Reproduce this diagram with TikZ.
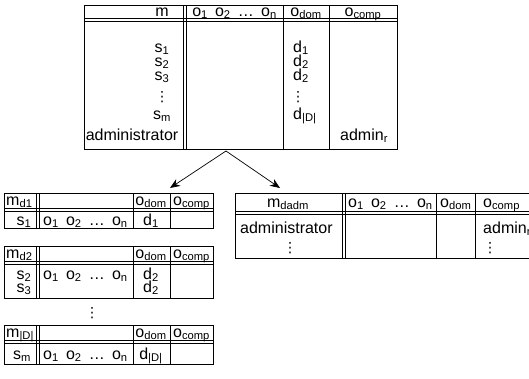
\documentclass[tikz,border=0pt]{standalone}
\usepackage{fontspec}
\setmainfont{Liberation Sans}
\newfontfamily\symfont{DejaVu Sans}
\usetikzlibrary{arrows.meta}
\newcommand{\olist}{o\textsubscript{1}\hspace{0.45em}o\textsubscript{2}\hspace{0.45em}…\hspace{0.45em}o\textsubscript{n}}
\newcommand{\odom}{o\textsubscript{dom}}
\newcommand{\ocomp}{o\textsubscript{comp}}
\newcommand{\vd}{{\symfont\fontsize{14}{14}\selectfont ⋮}}
\begin{document}
\begin{tikzpicture}[x=1pt,y=-1pt,
  every node/.style={inner sep=0pt, font=\fontsize{16}{16}\selectfont},
  tline/.style={line width=0.8pt},
  lbl/.style={anchor=base},
  lblw/.style={anchor=base west},
  dts/.style={anchor=base},
  arr/.style={-{Stealth[length=10pt,width=8pt]}, line width=0.7pt}]
\useasboundingbox (0,0) rectangle (529,378);
\clip (0,0) rectangle (529,378);

% ---------- top table ----------
\draw[tline] (84,5) rectangle (397,149);
\draw[tline] (84,18) -- (397,18);
\draw[tline] (84,21) -- (397,21);
\draw[tline] (183,5) -- (183,149);
\draw[tline] (186,5) -- (186,149);
\draw[tline] (283,5) -- (283,149);
\draw[tline] (329,5) -- (329,149);
\node[lbl] (tm) at (162,16) {m};
\node[lbl] (to) at (234.5,16) {\olist};
\node[lbl] (td) at (306,16) {\odom};
\node[lbl] (tc) at (363,16) {\ocomp};
\node[lbl] (ts1) at (162,52) {s\textsubscript{1}};
\node[lbl] (ts2) at (162,66) {s\textsubscript{2}};
\node[lbl] (ts3) at (162,80) {s\textsubscript{3}};
\node[dts] (tsd) at (162,101) {\vd};
\node[lbl] (tsm) at (162,119) {s\textsubscript{m}};
\node[lbl] (tadm) at (132,140) {administrator};
\node[lblw] (td1) at (293,52) {d\textsubscript{1}};
\node[lblw] (td2) at (293,66) {d\textsubscript{2}};
\node[lblw] (td3) at (293,80) {d\textsubscript{2}};
\node[dts] (tdd) at (298,101) {\vd};
\node[lblw] (tdD) at (293,119) {d\textsubscript{|D|}};
\node[lblw] (tadr) at (340,140) {admin\textsubscript{r}};

% ---------- arrows ----------
\coordinate (apex) at (226,151);
\coordinate (tipl) at (170,188);
\coordinate (tipr) at (280,188);
\draw[arr] (apex) -- (tipl);
\draw[arr] (apex) -- (tipr);

% ---------- table m_d1 ----------
\draw[tline] (4,193) rectangle (213,228);
\draw[tline] (4,208) -- (213,208);
\draw[tline] (4,211) -- (213,211);
\foreach \x in {36,39,133,170} \draw[tline] (\x,193) -- (\x,228);
\node[lblw] (am) at (6,205) {m\textsubscript{d1}};
\node[lbl] (ad) at (151,205) {\odom};
\node[lbl] (ac) at (191.5,205) {\ocomp};
\node[lbl] (as) at (24,225) {s\textsubscript{1}};
\node[lblw] (ao) at (43,225) {\olist};
\node[lbl] (ad1) at (151,225) {d\textsubscript{1}};

% ---------- table m_d2 ----------
\draw[tline] (4,246) rectangle (213,298);
\draw[tline] (4,261) -- (213,261);
\draw[tline] (4,264) -- (213,264);
\foreach \x in {36,39,133,170} \draw[tline] (\x,246) -- (\x,298);
\node[lblw] (bm) at (6,258) {m\textsubscript{d2}};
\node[lbl] (bd) at (151,258) {\odom};
\node[lbl] (bc) at (191.5,258) {\ocomp};
\node[lbl] (bs2) at (24,279) {s\textsubscript{2}};
\node[lbl] (bs3) at (24,292) {s\textsubscript{3}};
\node[lblw] (bo) at (43,279) {\olist};
\node[lbl] (bd2) at (151,279) {d\textsubscript{2}};
\node[lbl] (bd3) at (151,292) {d\textsubscript{2}};

\node[dts] (mid) at (92,317) {\vd};

% ---------- table m_|D| ----------
\draw[tline] (4,325) rectangle (213,364);
\draw[tline] (4,340) -- (213,340);
\draw[tline] (4,343) -- (213,343);
\foreach \x in {36,39,133,170} \draw[tline] (\x,325) -- (\x,364);
\node[lblw] (cm) at (6,337) {m\textsubscript{|D|}};
\node[lbl] (cd) at (151,337) {\odom};
\node[lbl] (cc) at (191.5,337) {\ocomp};
\node[lbl] (cs) at (22,359) {s\textsubscript{m}};
\node[lblw] (co) at (43,359) {\olist};
\node[lbl] (cdD) at (151,359) {d\textsubscript{|D|}};

% ---------- table m_dadm ----------
\draw[tline] (235,193) rectangle (560,258);
\draw[tline] (235,211) -- (560,211);
\draw[tline] (235,214) -- (560,214);
\foreach \x in {342,345,436,475} \draw[tline] (\x,193) -- (\x,258);
\node[lbl] (rm) at (288,207) {m\textsubscript{dadm}};
\node[lblw] (ro) at (348,207) {\olist};
\node[lblw] (rd) at (440,207) {\odom};
\node[lblw] (rc) at (483,207) {\ocomp};
\node[lblw] (radm) at (240,233) {administrator};
\node[dts] (rdots) at (290,252) {\vd};
\node[lblw] (radr) at (483,233) {admin\textsubscript{r}};
\node[dts] (rdots2) at (490,252) {\vd};
\end{tikzpicture}
\end{document}
